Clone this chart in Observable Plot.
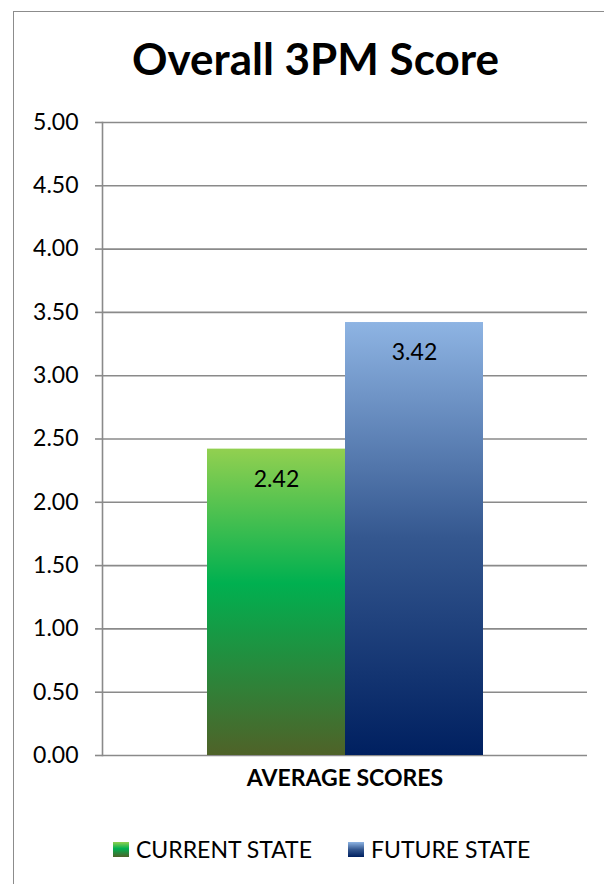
<!DOCTYPE html>
<html>
<head>
<meta charset="utf-8">
<script src="https://cdn.jsdelivr.net/npm/d3@7"></script>
<script src="https://cdn.jsdelivr.net/npm/@observablehq/plot@0.6"></script>
<style>
  html, body { margin: 0; padding: 0; background: #fff; }
  #wrap { position: relative; width: 604px; height: 884px; overflow: hidden; font-family: Lato, "Open Sans", sans-serif; }
  #border { position: absolute; left: 13px; top: 11px; right: -4px; bottom: -4px;
            border-left: 1.5px solid #8c8c8c; border-top: 1.5px solid #8c8c8c; }
  #title { position: absolute; left: 0; width: 631px; top: 36px; text-align: center;
           font-size: 44px; font-weight: 700; line-height: 44px; color: #000; }
  #chart { position: absolute; left: 0; top: 0; }
  #legend { position: absolute; left: 113px; top: 838px; display: flex; align-items: center;
            font-size: 23px; line-height: 23px; color: #000; }
  .item { display: flex; align-items: center; margin-right: 36px; }
  .sw { width: 16px; height: 15px; margin-right: 7px; }
</style>
</head>
<body>
<div id="wrap">
  <div id="border"></div>
  <div id="title">Overall 3PM Score</div>
  <div id="chart"></div>
  <div id="legend"></div>
</div>
<script>
// Chart values
const categories = ["AVERAGE SCORES"];
const series = ["CURRENT STATE", "FUTURE STATE"];
const values = [2.42, 3.42];
const yTicks = [0, 0.5, 1, 1.5, 2, 2.5, 3, 3.5, 4, 4.5, 5];

// Vertical gradients for each series
const gradients = {
  "CURRENT STATE": { id: "grad-current", stops: [[0, "#92D050"], [0.44, "#00B050"], [1, "#4F6228"]] },
  "FUTURE STATE": { id: "grad-future", stops: [[0, "#8EB4E3"], [0.5, "#34578F"], [1, "#002060"]] }
};

const rows = series.map((s, i) => ({ category: categories[0], series: s, value: values[i] }));

const gridColor = "#8a8a8a";

const chart = Plot.plot({
  width: 604,
  height: 884,
  marginTop: 122,
  marginBottom: 129,
  marginLeft: 102,
  marginRight: 17,
  style: { fontFamily: "Lato, 'Open Sans', sans-serif", fontSize: "23px", background: "transparent", color: "#000" },
  fx: { domain: categories, padding: 0, label: null, axis: null },
  x: { domain: series, paddingInner: 0, paddingOuter: 0.745, axis: null },
  y: { domain: [0, 5], axis: null, label: null },
  marks: [
    Plot.gridY(yTicks, { stroke: gridColor, strokeOpacity: 1, strokeWidth: 1.6 }),
    ...series.map(s => Plot.barY(rows.filter(d => d.series === s), {
      fx: "category", x: "series", y: "value", fill: `url(#${gradients[s].id})`
    })),
    Plot.frame({ anchor: "left", stroke: gridColor, strokeWidth: 1.6 }),
    Plot.axisY(yTicks, {
      anchor: "left", tickSize: 7, tickPadding: 17, stroke: gridColor, strokeWidth: 1.6,
      tickFormat: d => d.toFixed(2), fontSize: 23, fill: "#000", label: null
    }),
    Plot.text(rows, {
      fx: "category", x: "series", y: "value", text: d => d.value.toFixed(2),
      dy: 30, fontSize: 23, fill: "#000"
    }),
    Plot.axisFx({
      anchor: "bottom", tickSize: 0, tickPadding: 14, fontSize: 23, fontWeight: "bold",
      fill: "#000", label: null
    })
  ]
});

// Gradient definitions referenced by the bars
const defs = d3.select(chart).insert("defs", ":first-child");
for (const s of series) {
  const g = defs.append("linearGradient").attr("id", gradients[s].id)
    .attr("x1", 0).attr("y1", 0).attr("x2", 0).attr("y2", 1);
  for (const [o, c] of gradients[s].stops) g.append("stop").attr("offset", o).attr("stop-color", c);
}

document.getElementById("chart").appendChild(chart);

// Legend
const legend = d3.select("#legend");
for (const s of series) {
  const item = legend.append("div").attr("class", "item");
  const stops = gradients[s].stops.map(([o, c]) => `${c} ${o * 100}%`).join(", ");
  item.append("div").attr("class", "sw").style("background", `linear-gradient(to bottom, ${stops})`);
  item.append("span").text(s);
}
</script>
</body>
</html>
